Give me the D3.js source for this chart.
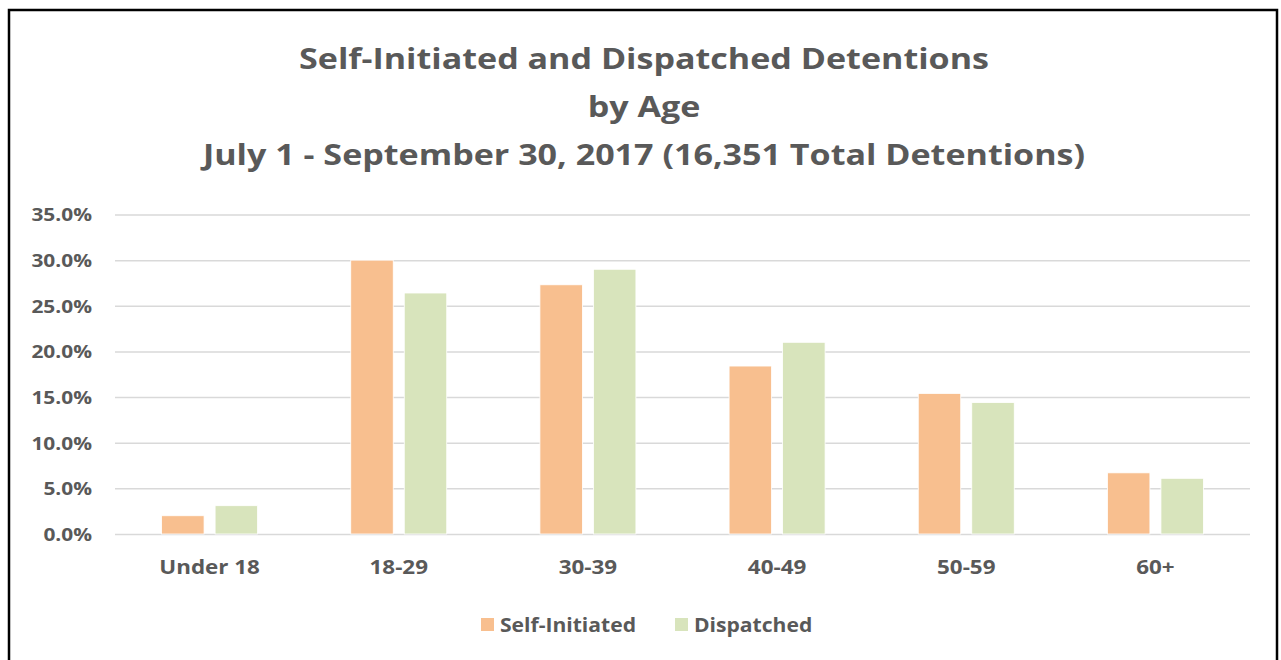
<!DOCTYPE html>
<html>
<head>
<meta charset="utf-8">
<script src="https://cdn.jsdelivr.net/npm/d3@7"></script>
<style>
  body { margin: 0; background: #fff; }
  svg text { font-family: "Open Sans", Lato, sans-serif; font-weight: bold; fill: #595959; }
</style>
</head>
<body>
<svg id="chart" width="1281" height="660"></svg>
<script>
// data
var ageGroups = ["Under 18", "18-29", "30-39", "40-49", "50-59", "60+"];
var seriesNames = ["Self-Initiated", "Dispatched"];
var selfInitiated = [2.0, 30.0, 27.3, 18.4, 15.4, 6.7];
var dispatched = [3.1, 26.4, 29.0, 21.0, 14.4, 6.1];
var yTicks = [0, 5, 10, 15, 20, 25, 30, 35];
var titleLines = [
  "Self-Initiated and Dispatched Detentions",
  "by Age",
  "July 1 - September 30, 2017 (16,351 Total Detentions)"
];

var colors = { "Self-Initiated": "#F8BF8F", "Dispatched": "#D8E4BC" };

var margin = { left: 115, right: 31, top: 214.5, bottom: 126 },
  width = 1281 - margin.left - margin.right,
  height = 660 - margin.top - margin.bottom;

var svg = d3.select("#chart");

// outer frame
svg.append("rect")
  .attr("x", 9).attr("y", 10)
  .attr("width", 1268).attr("height", 660)
  .attr("fill", "none")
  .attr("stroke", "#000")
  .attr("stroke-width", 2.5);

// title (the source text is a bit wider than Open Sans, so stretch it)
svg.append("g")
  .selectAll("text")
  .data(titleLines)
  .enter()
  .append("text")
  .attr("transform", function (d, i) {
    return "translate(644," + (69 + i * 48) + ") scale(1.175,1)";
  })
  .attr("text-anchor", "middle")
  .style("font-size", "29px")
  .text(function (d) { return d; });

var g = svg.append("g")
  .attr("transform", "translate(" + margin.left + "," + margin.top + ")");

var x = d3.scaleBand().domain(ageGroups).range([0, width]);
var bw = x.bandwidth();
var x1 = d3.scaleBand()
  .domain(seriesNames)
  .range([(bw - 96) / 2, (bw + 96) / 2])
  .paddingInner(0.206);
var y = d3.scaleLinear().domain([0, 35]).range([height, 0]);

// gridlines + y labels
var yAxis = g.append("g")
  .call(d3.axisLeft(y).tickValues(yTicks).tickSize(-width)
    .tickFormat(function (d) { return d.toFixed(1) + "%"; }));
yAxis.select(".domain").remove();
yAxis.selectAll(".tick line").attr("stroke", "#D9D9D9").attr("stroke-width", 1.5);
yAxis.selectAll(".tick text")
  .attr("x", 0)
  .attr("dy", "0.35em")
  .attr("transform", "translate(-23,0) scale(1.16,1)")
  .style("font-size", "18px");

// bars
var rows = ageGroups.map(function (a, i) {
  return { age: a, values: [
    { name: seriesNames[0], value: selfInitiated[i] },
    { name: seriesNames[1], value: dispatched[i] }
  ] };
});

g.selectAll(".group")
  .data(rows)
  .enter()
  .append("g")
  .attr("class", "group")
  .attr("transform", function (d) { return "translate(" + x(d.age) + ",0)"; })
  .selectAll("rect")
  .data(function (d) { return d.values; })
  .enter()
  .append("rect")
  .attr("x", function (d) { return x1(d.name); })
  .attr("y", function (d) { return y(d.value); })
  .attr("width", x1.bandwidth())
  .attr("height", function (d) { return height - y(d.value); })
  .attr("fill", function (d) { return colors[d.name]; })
  .attr("stroke", "#fff")
  .attr("stroke-width", 0.8);

// x labels
var xAxis = g.append("g")
  .attr("transform", "translate(0," + height + ")")
  .call(d3.axisBottom(x).tickSize(0));
xAxis.select(".domain").remove();
xAxis.selectAll(".tick text")
  .attr("y", 0)
  .attr("dy", "0.71em")
  .attr("transform", "translate(0,26) scale(1.18,1)")
  .style("font-size", "19px");

// legend
var legend = svg.append("g")
  .selectAll("g")
  .data(seriesNames)
  .enter()
  .append("g")
  .attr("transform", function (d, i) { return "translate(" + [481, 675][i] + ",618)"; });
legend.append("rect")
  .attr("width", 13).attr("height", 13)
  .attr("fill", function (d) { return colors[d]; });
legend.append("text")
  .attr("transform", "translate(19,14) scale(1.11,1)")
  .style("font-size", "19px")
  .text(function (d) { return d; });
</script>
</body>
</html>
